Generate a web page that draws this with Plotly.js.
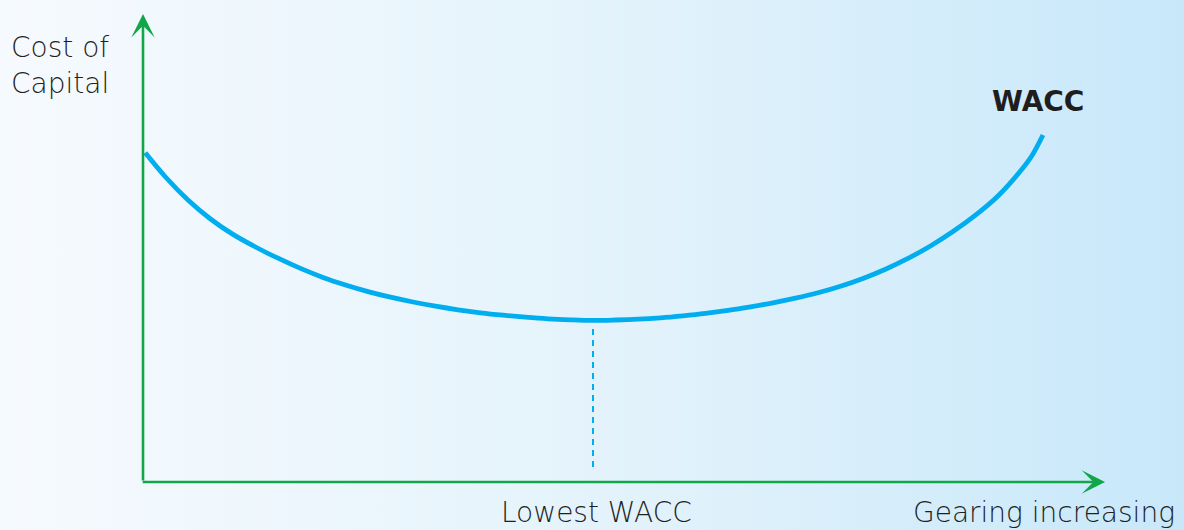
<!DOCTYPE html>
<html>
<head>
<meta charset="utf-8">
<script src="https://cdn.plot.ly/plotly-3.0.1.min.js"></script>
<style>
html,body{margin:0;padding:0;}
#chart{width:1184px;height:530px;background:linear-gradient(to right,#F6FAFE 0%,#E4F3FB 50%,#C8E8FA 100%);}
</style>
</head>
<body>
<div id="chart"></div>
<script>
// Gearing (x) vs cost of capital (y), arbitrary units
const gearing = [0.25, 2.5, 5, 7.5, 10, 12.5, 15, 17.5, 20, 22.5, 25, 27.5, 30, 32.5, 35, 37.5, 40, 42.5, 45, 47.5, 50,
                 52.5, 55, 57.5, 60, 62.5, 65, 67.5, 70, 72.5, 75, 77.5, 80, 82.5, 85, 87.5, 90, 92.5, 95, 97.5, 98.75, 100];
const wacc = [16.46, 15.25, 14.10, 13.15, 12.38, 11.75, 11.19, 10.68, 10.23, 9.85, 9.52, 9.24, 9.00, 8.79, 8.61, 8.46, 8.34, 8.24, 8.16, 8.11, 8.08,
              8.10, 8.14, 8.21, 8.31, 8.43, 8.58, 8.76, 8.96, 9.19, 9.46, 9.79, 10.18, 10.64, 11.18, 11.80, 12.52, 13.34, 14.30, 15.55, 16.30, 17.35];
const lowestX = [50, 50];
const lowestY = [7.65, 0.5];
const axisEndX = 106.9;
const axisEndY = 23.4;
const labels = {series: "WACC", xTitle: "Gearing increasing", yTitle: "Cost of<br>Capital", lowest: "Lowest WACC"};

const green = "#10A64A";
const blue = "#00AEEF";
const textCol = "#1f1f1f";
const font = "'DejaVu Sans', sans-serif";

const traces = [
  {x: gearing, y: wacc, mode: "lines", line: {color: blue, width: 4.8, shape: "spline", smoothing: 1}, hoverinfo: "skip"},
  {x: lowestX, y: lowestY, mode: "lines", line: {color: blue, width: 2, dash: "6px,5px"}, hoverinfo: "skip"}
];

const layout = {
  width: 1184, height: 530,
  margin: {l: 0, r: 0, t: 0, b: 0},
  paper_bgcolor: "rgba(0,0,0,0)", plot_bgcolor: "rgba(0,0,0,0)",
  showlegend: false,
  xaxis: {range: [-15.89, 115.67], visible: false, fixedrange: true},
  yaxis: {range: [-2.4, 24.1], visible: false, fixedrange: true},
  annotations: [
    {x: axisEndX, y: 0, ax: -0.2, ay: 0, xref: "x", yref: "y", axref: "x", ayref: "y", text: "", showarrow: true, arrowhead: 3, arrowsize: 1.5, arrowwidth: 2.6, arrowcolor: green},
    {x: 0, y: axisEndY, ax: 0, ay: 0, xref: "x", yref: "y", axref: "x", ayref: "y", text: "", showarrow: true, arrowhead: 3, arrowsize: 1.5, arrowwidth: 2.6, arrowcolor: green},
    {x: 99.4, y: 19.05, xref: "x", yref: "y", text: "<b>" + labels.series + "</b>", showarrow: false, font: {family: font, size: 28, color: "#1e1e1e"}},
    {x: 50.44, y: -1.5, xref: "x", yref: "y", text: labels.lowest, showarrow: false, font: {family: font, size: 28, color: textCol, weight: 300}},
    {x: 100.06, y: -1.5, xref: "x", yref: "y", text: labels.xTitle, showarrow: false, font: {family: font, size: 28, color: textCol, weight: 300}},
    {x: 9/1184, y: 1 - 66/530, xref: "paper", yref: "paper", xanchor: "left", yanchor: "middle", align: "left", text: labels.yTitle, showarrow: false, font: {family: font, size: 28, color: textCol, weight: 300}}
  ]
};

Plotly.newPlot("chart", traces, layout, {displayModeBar: false, staticPlot: true});
</script>
</body>
</html>
